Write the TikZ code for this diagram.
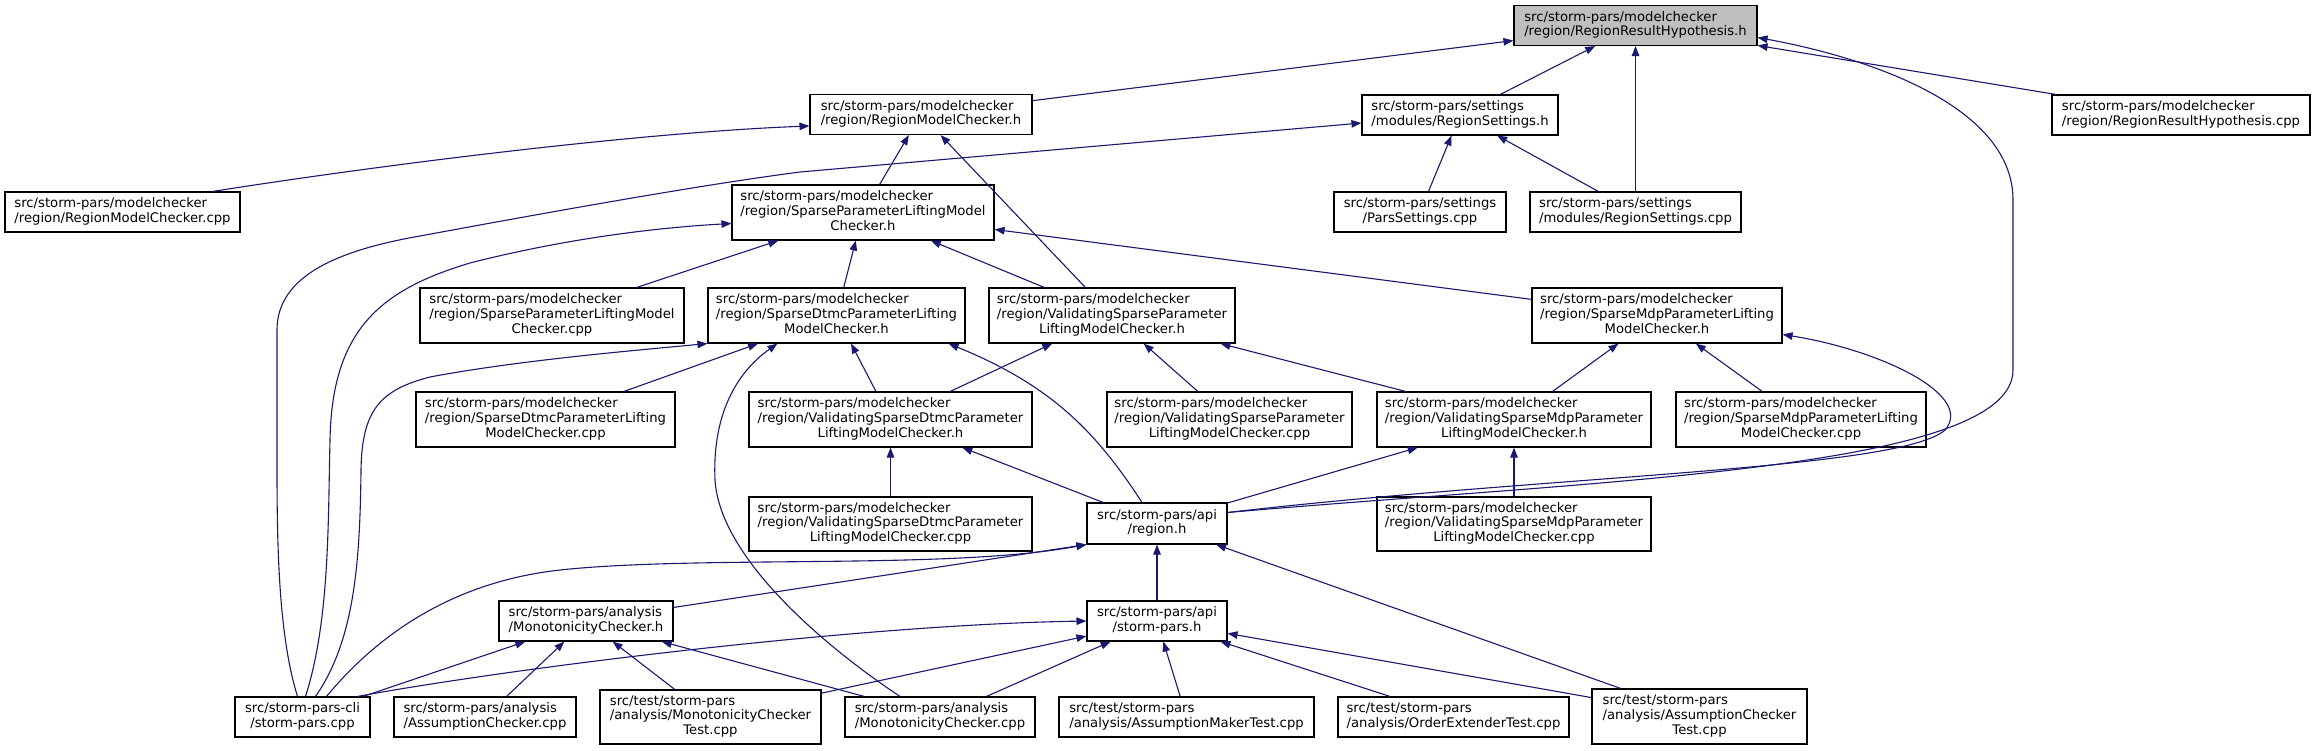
\documentclass[tikz,border=0pt]{standalone}
\usepackage{fontspec}
\setmainfont{DejaVu Sans}
\usepackage{tikz}
\usetikzlibrary{arrows.meta}

\definecolor{edgeblue}{HTML}{191970}
\definecolor{rootgray}{HTML}{BFBFBF}
\newcommand{\filefont}{\fontsize{13.2}{14.6}\selectfont}
% all lines left, last line centred
\newcommand{\lbl}[2]{\begin{tabular}{@{}l@{}}#1\\\multicolumn{1}{@{}c@{}}{#2}\end{tabular}}

\begin{document}
\begin{tikzpicture}[x=1pt, y=-1pt,
    filebox/.style={draw, line width=1.1pt, fill=white, font=\filefont,
      inner sep=0pt, minimum height=40},
    tallbox/.style={filebox, minimum height=55},
    dep/.style={draw=edgeblue, line width=1.1pt,
      -{Triangle[length=10pt, width=7.5pt]}}
  ]
  \useasboundingbox (0,0) rectangle (2315,751);

  % row 1
  \node[filebox, fill=rootgray, minimum width=243] (root) at (1635.5,25.5)
    {\lbl{src/storm-pars/modelchecker}{/region/RegionResultHypothesis.h}};
  \node[filebox, minimum width=222] (rmch) at (921,114.5)
    {\lbl{src/storm-pars/modelchecker}{/region/RegionModelChecker.h}};
  \node[filebox, minimum width=196] (rsh) at (1460,115)
    {\lbl{src/storm-pars/settings}{/modules/RegionSettings.h}};
  \node[filebox, minimum width=258] (rrhcpp) at (2181,115)
    {\lbl{src/storm-pars/modelchecker}{/region/RegionResultHypothesis.cpp}};

  % row 2
  \node[filebox, minimum width=235] (rmccpp) at (122.5,212)
    {\lbl{src/storm-pars/modelchecker}{/region/RegionModelChecker.cpp}};
  \node[tallbox, minimum width=262] (splmch) at (863,212.5)
    {\lbl{src/storm-pars/modelchecker\\/region/SparseParameterLiftingModel}{Checker.h}};
  \node[filebox, minimum width=172] (parscpp) at (1420,212)
    {\lbl{src/storm-pars/settings}{/ParsSettings.cpp}};
  \node[filebox, minimum width=211] (rscpp) at (1635.5,212)
    {\lbl{src/storm-pars/settings}{/modules/RegionSettings.cpp}};

  % row 3
  \node[tallbox, minimum width=264] (splmccpp) at (552,315.5)
    {\lbl{src/storm-pars/modelchecker\\/region/SparseParameterLiftingModel}{Checker.cpp}};
  \node[tallbox, minimum width=257] (sdplmch) at (836.5,315.5)
    {\lbl{src/storm-pars/modelchecker\\/region/SparseDtmcParameterLifting}{ModelChecker.h}};
  \node[tallbox, minimum width=246] (vsplmch) at (1112,315.5)
    {\lbl{src/storm-pars/modelchecker\\/region/ValidatingSparseParameter}{LiftingModelChecker.h}};
  \node[tallbox, minimum width=250] (smplmch) at (1657,315.5)
    {\lbl{src/storm-pars/modelchecker\\/region/SparseMdpParameterLifting}{ModelChecker.h}};

  % row 4
  \node[tallbox, minimum width=259] (sdplmccpp) at (545.5,419.5)
    {\lbl{src/storm-pars/modelchecker\\/region/SparseDtmcParameterLifting}{ModelChecker.cpp}};
  \node[tallbox, minimum width=283] (vsdplmch) at (890.5,419.5)
    {\lbl{src/storm-pars/modelchecker\\/region/ValidatingSparseDtmcParameter}{LiftingModelChecker.h}};
  \node[tallbox, minimum width=245] (vsplmccpp) at (1229.5,419.5)
    {\lbl{src/storm-pars/modelchecker\\/region/ValidatingSparseParameter}{LiftingModelChecker.cpp}};
  \node[tallbox, minimum width=274] (vsmplmch) at (1514,419.5)
    {\lbl{src/storm-pars/modelchecker\\/region/ValidatingSparseMdpParameter}{LiftingModelChecker.h}};
  \node[tallbox, minimum width=250] (smplmccpp) at (1801,419.5)
    {\lbl{src/storm-pars/modelchecker\\/region/SparseMdpParameterLifting}{ModelChecker.cpp}};

  % row 5
  \node[tallbox, minimum width=283, minimum height=54] (vsdplmccpp) at (890.5,524)
    {\lbl{src/storm-pars/modelchecker\\/region/ValidatingSparseDtmcParameter}{LiftingModelChecker.cpp}};
  \node[filebox, minimum width=140, minimum height=41] (regionh) at (1157,523.5)
    {\lbl{src/storm-pars/api}{/region.h}};
  \node[tallbox, minimum width=274, minimum height=54] (vsmplmccpp) at (1514,524)
    {\lbl{src/storm-pars/modelchecker\\/region/ValidatingSparseMdpParameter}{LiftingModelChecker.cpp}};

  % row 6
  \node[filebox, minimum width=174] (monoh) at (586,621)
    {\lbl{src/storm-pars/analysis}{/MonotonicityChecker.h}};
  \node[filebox, minimum width=140] (stormparsh) at (1157,621)
    {\lbl{src/storm-pars/api}{/storm-pars.h}};

  % row 7
  \node[filebox, minimum width=135] (cli) at (302.5,717)
    {\lbl{src/storm-pars-cli}{/storm-pars.cpp}};
  \node[filebox, minimum width=182] (assumpcpp) at (485,717)
    {\lbl{src/storm-pars/analysis}{/AssumptionChecker.cpp}};
  \node[tallbox, minimum width=221, minimum height=54] (monotestcpp) at (710.5,717)
    {\lbl{src/test/storm-pars\\/analysis/MonotonicityChecker}{Test.cpp}};
  \node[filebox, minimum width=190] (monocpp) at (940,717)
    {\lbl{src/storm-pars/analysis}{/MonotonicityChecker.cpp}};
  \node[filebox, minimum width=255] (amtestcpp) at (1186.5,717)
    {\lbl{src/test/storm-pars}{/analysis/AssumptionMakerTest.cpp}};
  \node[filebox, minimum width=231] (oetestcpp) at (1453.5,717)
    {\lbl{src/test/storm-pars}{/analysis/OrderExtenderTest.cpp}};
  \node[tallbox, minimum width=215] (actestcpp) at (1699.5,716.5)
    {\lbl{src/test/storm-pars\\/analysis/AssumptionChecker}{Test.cpp}};

  % straight includes
  \foreach \a/\b in {rmch/root, rsh/root, rscpp/root, rrhcpp/root,
      splmch/rmch, vsplmch/rmch, parscpp/rsh, rscpp/rsh,
      splmccpp/splmch, sdplmch/splmch, vsplmch/splmch, smplmch/splmch,
      sdplmccpp/sdplmch, vsdplmch/sdplmch, vsdplmch/vsplmch,
      vsplmccpp/vsplmch, vsmplmch/vsplmch, vsmplmch/smplmch,
      smplmccpp/smplmch, vsdplmccpp/vsdplmch, vsmplmccpp/vsmplmch,
      regionh/vsdplmch, regionh/vsmplmch, stormparsh/regionh,
      actestcpp/regionh, cli/monoh, assumpcpp/monoh, monotestcpp/monoh,
      monocpp/monoh, monotestcpp/stormparsh, monocpp/stormparsh,
      amtestcpp/stormparsh, oetestcpp/stormparsh, actestcpp/stormparsh} {
    \draw[dep] (\a) -- (\b);
  }
  \draw[dep] ([yshift=-7]monoh.north east) -- (regionh.south west);

  % curved includes
  \draw[dep] ([xshift=-28]rmccpp.north east) .. controls (400,162) and (650,132)
    .. ([yshift=-11.5]rmch.west);
  \draw[dep] ([xshift=-5]cli.north) .. controls (280,640) and (277,560) .. (277,470)
    -- (277,330) .. controls (277,275) and (340,250) .. (420,236)
    .. controls (550,212) and (700,185) .. (800,172) -- ([yshift=-8]rsh.west);
  \draw[dep] ([xshift=3]cli.north) .. controls (330,620) and (328,520) .. (330,440)
    .. controls (332,330) and (380,290) .. (470,263)
    .. controls (560,240) and (650,228) .. ([yshift=-11]splmch.west);
  \draw[dep] ([xshift=13]cli.north) .. controls (355,640) and (360,560) .. (361,470)
    .. controls (362,410) and (380,390) .. (430,377)
    .. controls (520,360) and (640,350) .. (sdplmch.south west);
  \draw[dep] ([xshift=24]cli.north) .. controls (390,620) and (470,580) .. (560,570)
    .. controls (700,555) and (950,570) .. (regionh.south west);
  \draw[dep] ([xshift=55]cli.north) .. controls (500,670) and (850,625)
    .. (stormparsh.west);
  \draw[dep] ([xshift=-40]monocpp.north) .. controls (830,650) and (720,560) .. (715,480)
    .. controls (712,410) and (740,370) .. ([xshift=70]sdplmch.south west);
  \draw[dep] ([xshift=-15]regionh.north) .. controls (1095,430) and (1050,385)
    .. ([xshift=-17]sdplmch.south east);
  \draw[dep] ([yshift=11]regionh.east) .. controls (1550,475) and (1900,470) .. (1945,430)
    .. controls (1975,395) and (1880,350) .. ([yshift=-19]smplmch.east);
  \draw[dep] ([yshift=11]regionh.east) .. controls (1600,480) and (2013,470) .. (2013,370)
    -- (2013,200) .. controls (2013,110) and (1880,60) .. ([yshift=-12]root.east);
\end{tikzpicture}
\end{document}
